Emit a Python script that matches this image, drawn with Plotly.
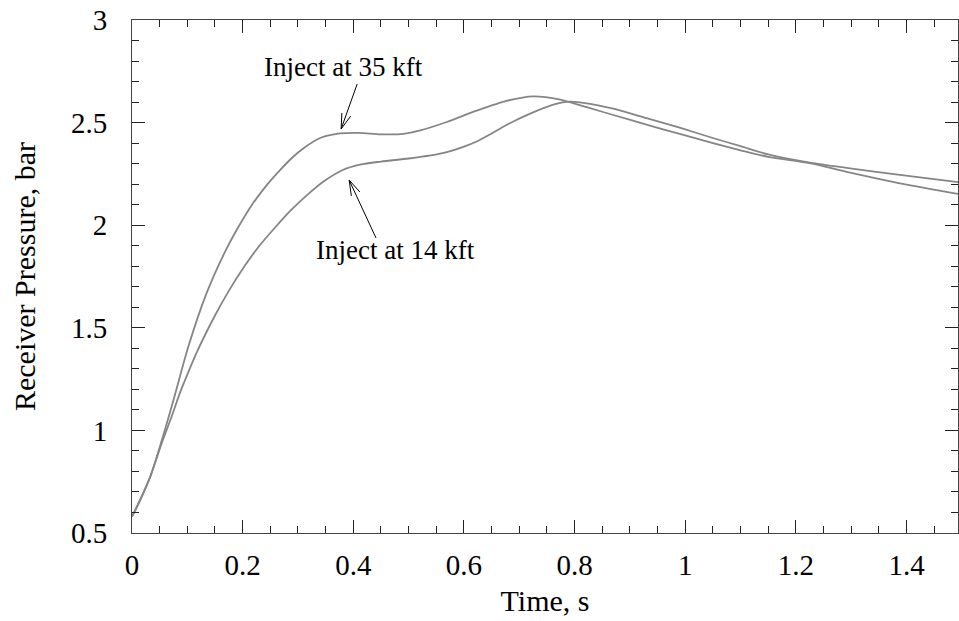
import math
import plotly.graph_objects as go

# Receiver pressure traces (time in s, pressure in bar)
t_35 = [0.0, 0.012, 0.033, 0.054, 0.075, 0.102, 0.135, 0.169, 0.193, 0.217, 0.245,
        0.268, 0.290, 0.310, 0.340, 0.376, 0.410, 0.450, 0.490, 0.521, 0.569, 0.623,
        0.677, 0.725, 0.774, 0.822, 0.870, 0.930, 0.990, 1.050, 1.100, 1.150, 1.225,
        1.298, 1.388, 1.493]
p_35 = [0.58, 0.645, 0.775, 0.953, 1.148, 1.41, 1.67, 1.875, 1.995, 2.10, 2.20,
        2.27, 2.33, 2.375, 2.425, 2.447, 2.450, 2.443, 2.445, 2.462, 2.503, 2.558,
        2.606, 2.628, 2.612, 2.575, 2.537, 2.490, 2.445, 2.400, 2.365, 2.333, 2.302,
        2.256, 2.204, 2.153]

t_14 = [0.0, 0.012, 0.033, 0.054, 0.072, 0.087, 0.102, 0.117, 0.132, 0.150, 0.175,
        0.202, 0.229, 0.259, 0.286, 0.322, 0.350, 0.380, 0.412, 0.450, 0.500, 0.540,
        0.569, 0.600, 0.623, 0.650, 0.680, 0.725, 0.768, 0.792, 0.822, 0.870, 0.930,
        0.990, 1.050, 1.100, 1.150, 1.225, 1.298, 1.388, 1.493]
p_14 = [0.58, 0.645, 0.775, 0.94, 1.07, 1.185, 1.285, 1.38, 1.465, 1.56, 1.68,
        1.795, 1.895, 1.99, 2.07, 2.16, 2.22, 2.268, 2.295, 2.31, 2.325, 2.340,
        2.356, 2.383, 2.408, 2.447, 2.493, 2.550, 2.592, 2.602, 2.594, 2.568, 2.522,
        2.475, 2.425, 2.385, 2.345, 2.305, 2.277, 2.245, 2.21]

x_ticks = [0, 0.2, 0.4, 0.6, 0.8, 1, 1.2, 1.4]
x_tick_text = ["0", "0.2", "0.4", "0.6", "0.8", "1", "1.2", "1.4"]
y_ticks = [0.5, 1, 1.5, 2, 2.5, 3]
y_tick_text = ["0.5", "1", "1.5", "2", "2.5", "3"]

# Callouts: label, label position, arrow tail, arrow tip
callouts = [
    ("Inject at 35 kft", (0.382, 2.771), (0.407, 2.688), (0.378, 2.469)),
    ("Inject at 14 kft", (0.476, 1.879), (0.441, 1.938), (0.3925, 2.220)),
]

W, H = 959, 621
M = dict(l=132, r=1, t=20, b=88)
X_RANGE = [0, 1.493]
Y_RANGE = [0.5, 3]
FONT = "Liberation Serif, Times New Roman, serif"
LINE_COLOR = "#858585"

fig = go.Figure()
for t, p, name in ((t_35, p_35, "Inject at 35 kft"), (t_14, p_14, "Inject at 14 kft")):
    fig.add_trace(go.Scatter(x=t, y=p, mode="lines", name=name,
                             line=dict(color=LINE_COLOR, width=1.8, shape="spline",
                                       smoothing=0.8)))

# pixel scale of the plot area, used to shape the open arrow heads
sx = (W - M["l"] - M["r"]) / (X_RANGE[1] - X_RANGE[0])
sy = (H - M["t"] - M["b"]) / (Y_RANGE[1] - Y_RANGE[0])

shapes = []
annotations = []
for label, (lx, ly), (tx, ty), (hx, hy) in callouts:
    annotations.append(dict(x=lx, y=ly, xref="x", yref="y", text=label, showarrow=False,
                            font=dict(family=FONT, size=27, color="black")))
    shapes.append(dict(type="line", x0=tx, y0=ty, x1=hx, y1=hy, xref="x", yref="y",
                       line=dict(color="black", width=1)))
    # open V head in pixel space
    dx, dy = (tx - hx) * sx, (ty - hy) * sy
    ang = math.atan2(dy, dx)
    arm, spread = 16, math.radians(17)
    pts = []
    for s in (-1, 1):
        a = ang + s * spread
        pts.append((hx + arm * math.cos(a) / sx, hy + arm * math.sin(a) / sy))
    path = f"M {pts[0][0]},{pts[0][1]} L {hx},{hy} L {pts[1][0]},{pts[1][1]}"
    shapes.append(dict(type="path", path=path, xref="x", yref="y",
                       line=dict(color="black", width=1)))

axis_common = dict(
    showline=True, linecolor="#444", linewidth=1, mirror="ticks",
    ticks="inside", ticklen=13, tickwidth=1, tickcolor="#222",
    showgrid=False, zeroline=False,
    tickfont=dict(family=FONT, size=29, color="black"),
)

fig.update_layout(
    width=W, height=H, margin=M,
    paper_bgcolor="white", plot_bgcolor="white",
    showlegend=False, shapes=shapes, annotations=annotations,
    xaxis=dict(range=X_RANGE, tickvals=x_ticks, ticktext=x_tick_text,
               minor=dict(dtick=0.05, tick0=0, ticks="inside", ticklen=7, tickcolor="#222"),
               title=dict(text="Time, s", font=dict(family=FONT, size=30, color="black"),
                          standoff=10),
               ticklabelstandoff=6, **axis_common),
    yaxis=dict(range=Y_RANGE, tickvals=y_ticks, ticktext=y_tick_text,
               minor=dict(dtick=0.1, tick0=0.5, ticks="inside", ticklen=7, tickcolor="#222"),
               title=dict(text="Receiver Pressure, bar",
                          font=dict(family=FONT, size=30, color="black"), standoff=26),
               ticklabelstandoff=18, **axis_common),
)

fig.write_html("out.html")
